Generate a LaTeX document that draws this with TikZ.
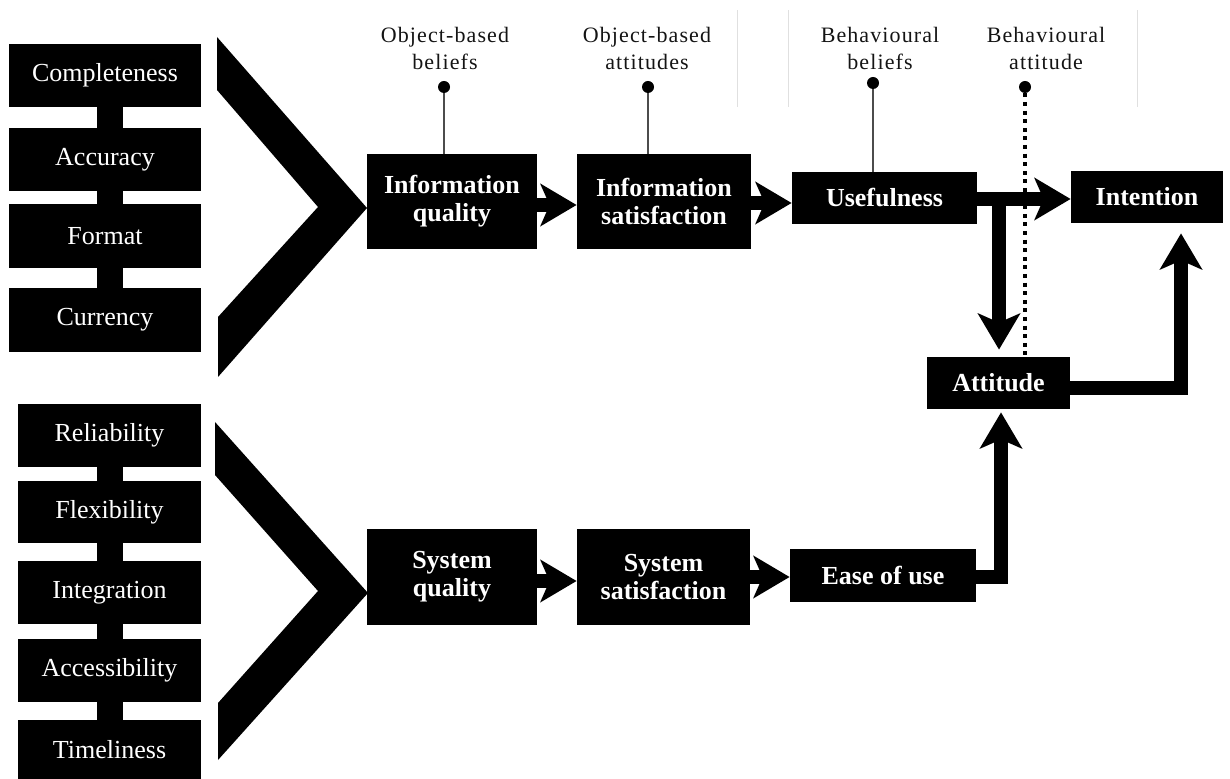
\documentclass[tikz,border=0pt]{standalone}
\usepackage{fontspec}
\setmainfont{Liberation Serif}
\newfontfamily\capfont[LetterSpace=5]{Liberation Serif}
\usetikzlibrary{arrows.meta,calc}
\begin{document}
\begin{tikzpicture}[x=0.5pt,y=-0.5pt,
  item/.style={fill=black,text=white,inner sep=0pt,font=\fontsize{13pt}{14pt}\selectfont},
  stage/.style={fill=black,text=white,inner sep=0pt,align=center,font=\bfseries\fontsize{13pt}{14pt}\selectfont},
  flow/.style={draw=black,line width=7pt,line join=miter,-{Stealth[length=18pt,width=21pt,inset=4.5pt]}},
  stem/.style={line width=1pt,draw=black!70},
  pin/.style={circle,fill=black,inner sep=0pt,minimum size=6pt},
  concept/.style={inner sep=0pt,align=center,anchor=south,text=black!92,font=\capfont\fontsize{11pt}{13.5pt}\selectfont},
  guide/.style={line width=0.5pt,draw=black!12},
]
\useasboundingbox (0,0) rectangle (1230,779);

% faint column separators in the header
\draw[guide] (737,10) -- (737,107);
\draw[guide] (788,10) -- (788,107);
\draw[guide] (1137,10) -- (1137,107);

% information quality dimensions
\fill (97,107) rectangle (123,288);
\node[item,minimum width=96pt,minimum height=31.5pt] (comp) at (105,75.5) {Completeness};
\node[item,minimum width=96pt,minimum height=31.5pt] (accu) at (105,159.5) {Accuracy};
\node[item,minimum width=96pt,minimum height=32pt] (form) at (105,236) {Format};
\node[item,minimum width=96pt,minimum height=32pt] (curr) at (105,320) {Currency};
\fill (217,37) -- (367,208) -- (218,377) -- (218,317) -- (318,207) -- (217,90) -- cycle;

% system quality dimensions
\fill (97,467) rectangle (123,720);
\node[item,minimum width=91.5pt,minimum height=31.5pt] (reli) at (109.5,435.5) {Reliability};
\node[item,minimum width=91.5pt,minimum height=31pt] (flex) at (109.5,512) {Flexibility};
\node[item,minimum width=91.5pt,minimum height=31.5pt] (inte) at (109.5,592.5) {Integration};
\node[item,minimum width=91.5pt,minimum height=31.5pt] (acce) at (109.5,670.5) {Accessibility};
\node[item,minimum width=91.5pt,minimum height=29.5pt] (time) at (109.5,749.5) {Timeliness};
\fill (215,422) -- (368,593) -- (218,760) -- (218,703) -- (318,591) -- (215,475) -- cycle;

% model constructs
\node[stage,minimum width=85pt,minimum height=47.5pt] (iq) at (452,201.5) {Information\\quality};
\node[stage,minimum width=87pt,minimum height=47.5pt] (is) at (664,201.5) {Information\\satisfaction};
\node[stage,minimum width=92.5pt,minimum height=26pt] (use) at (884.5,198) {Usefulness};
\node[stage,minimum width=76pt,minimum height=26pt] (int) at (1147,197) {Intention};
\node[stage,minimum width=71.5pt,minimum height=26pt] (att) at (998.5,383) {Attitude};
\node[stage,minimum width=85pt,minimum height=48pt] (sq) at (452,577) {System\\quality};
\node[stage,minimum width=86.5pt,minimum height=48pt] (ss) at (663.5,577) {System\\satisfaction};
\node[stage,minimum width=93pt,minimum height=26.5pt] (eou) at (883,575.5) {Ease of use};

% header concepts with their pins
\node[concept] (lob) at (445,70) {Object-based\\beliefs};
\node[concept] (loa) at (647,70) {Object-based\\attitudes};
\node[concept] (lbb) at (880,70) {Behavioural\\beliefs};
\node[concept] (lba) at (1046,70) {Behavioural\\attitude};
\node[pin] (pob) at (444,87) {};
\node[pin] (poa) at (648,87) {};
\node[pin] (pbb) at (873,83) {};
\node[pin] (pba) at (1025,87) {};
\draw[stem] (pob) -- (iq.north -| pob);
\draw[stem] (poa) -- (is.north -| poa);
\draw[stem] (pbb) -- (use.north -| pbb);
\draw[line width=2pt,dash pattern=on 2pt off 2.3pt] (pba) -- (att.north -| pba);

% causal paths
\coordinate (split) at (999,199);
\draw[flow] (iq.east |- 0,205) -- (is.west |- 0,205);
\draw[flow] (is.east |- 0,203) -- (use.west |- 0,203);
\draw[flow] (use.east |- split) -- (int.west |- split);
\draw[flow] (split) -- ($(att.north -| split)+(0,-7)$);
\draw[flow] (sq.east |- 0,581) -- (ss.west |- 0,581);
\draw[flow] (ss.east |- 0,577) -- (eou.west |- 0,577);
\draw[flow] (eou.east |- 0,577) -| ($(att.south -| 1001,0)+(0,3)$);
\draw[flow] (att.east |- 0,388) -| ($(int.south -| 1181,0)+(0,10)$);
\end{tikzpicture}
\end{document}
